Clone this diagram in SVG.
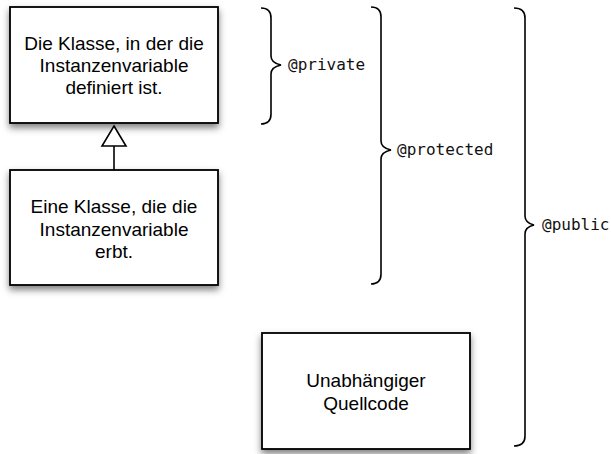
<svg xmlns="http://www.w3.org/2000/svg" width="611" height="454" viewBox="0 0 611 454">
<defs>
<filter id="sh" x="-10%" y="-10%" width="125%" height="135%">
<feDropShadow dx="0" dy="4" stdDeviation="3.5" flood-color="#000" flood-opacity="0.5"/>
</filter>
</defs>
<style>
.box{fill:#fff;stroke:#000;stroke-width:1.8;filter:url(#sh)}
.lbl{font-family:"Liberation Sans",Arial,sans-serif;font-size:19px;fill:#000;text-anchor:middle}
.brace{fill:none;stroke:#000;stroke-width:1.6}
.mono{font-family:"DejaVu Sans Mono","Liberation Mono",monospace;font-size:16px;fill:#111}
</style>
<rect width="611" height="454" fill="#fff"/>
<g id="klasse-definiert">
<rect class="box" x="10" y="7" width="208" height="116"/>
<text class="lbl" x="114" y="50">Die Klasse, in der die</text>
<text class="lbl" x="114" y="72">Instanzenvariable</text>
<text class="lbl" x="114" y="94">definiert ist.</text>
</g>
<g id="klasse-erbt">
<rect class="box" x="10" y="170" width="208" height="115"/>
<text class="lbl" x="114" y="213">Eine Klasse, die die</text>
<text class="lbl" x="114" y="236">Instanzenvariable</text>
<text class="lbl" x="114" y="258">erbt.</text>
</g>
<g id="unabhaengig">
<rect class="box" x="262" y="333" width="208" height="116"/>
<text class="lbl" x="366" y="387">Unabhängiger</text>
<text class="lbl" x="366" y="410">Quellcode</text>
</g>
<g id="connectors">
<line x1="114" y1="146" x2="114" y2="170" stroke="#000" stroke-width="1.6"/>
<polygon points="114,126 126,146 102,146" fill="#fff" stroke="#000" stroke-width="1.6"/>
</g>
<g id="private">
<path class="brace" d="M261,8 Q271,8 271,18 L271,56 Q271,63 281,65 Q271,67 271,74 L271,114 Q271,124 261,124"/>
<text class="mono" x="288" y="70">@private</text>
</g>
<g id="protected">
<path class="brace" d="M371,7 Q381,7 381,17 L381,141 Q381,148 391,150 Q381,152 381,159 L381,274 Q381,284 371,284"/>
<text class="mono" x="397" y="155">@protected</text>
</g>
<g id="public">
<path class="brace" d="M514,8 Q525,8 525,18 L525,216 Q525,223 534,225 Q525,227 525,234 L525,436 Q525,446 514,446"/>
<text class="mono" x="542" y="230">@public</text>
</g>
</svg>
